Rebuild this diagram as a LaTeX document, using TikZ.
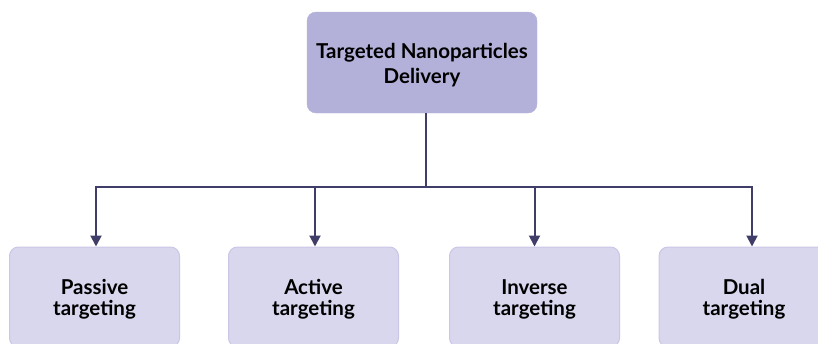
\documentclass[tikz,border=0pt]{standalone}
\usepackage{fontspec}
\setmainfont{Lato}
\usetikzlibrary{arrows.meta}

\definecolor{topfill}{HTML}{B3B1DA}
\definecolor{boxfill}{HTML}{D8D7EE}
\definecolor{boxline}{HTML}{C9C7E5}
\definecolor{linkcol}{HTML}{403E68}

\begin{document}
\begin{tikzpicture}[x=1pt,y=-1pt,
  topbox/.style={fill=topfill, draw=topfill, rounded corners=9pt, minimum width=230pt,
    minimum height=101pt, align=center, font=\fontsize{20.5}{25}\selectfont\bfseries, inner sep=0pt},
  kindbox/.style={fill=boxfill, draw=boxline, line width=1pt, rounded corners=9pt, minimum width=170pt,
    minimum height=100pt, align=center, font=\fontsize{20.5}{21}\selectfont\bfseries, inner sep=0pt},
  link/.style={draw=linkcol, line width=2pt},
  arr/.style={link, -{Triangle[width=11pt,length=11pt]}}]
\useasboundingbox (0,0) rectangle (818,343);
\clip (0,0) rectangle (818,343);

% root
\node[topbox] (root) at (422,62.5) {\rule{0pt}{21pt}Targeted Nanoparticles\\Delivery};

% kinds of targeting
\node[kindbox] (passive) at (94.5,297) {\rule{0pt}{19pt}Passive\\targeting};
\node[kindbox] (active) at (313.5,297) {\rule{0pt}{19pt}Active\\targeting};
\node[kindbox] (inverse) at (534.5,297) {\rule{0pt}{19pt}Inverse\\targeting};
\node[kindbox] (dual) at (744,297) {\rule{0pt}{19pt}Dual\\targeting};

\coordinate (hub) at (426,187);

\draw[link] ([xshift=4pt]root.south) -- (hub);
\draw[arr] (hub) -| ([xshift=1.5pt]passive.north);
\draw[arr] (hub) -| ([xshift=1.5pt]active.north);
\draw[arr] (hub) -| (inverse.north);
\draw[arr] (hub) -| ([xshift=8pt]dual.north);

\end{tikzpicture}
\end{document}
